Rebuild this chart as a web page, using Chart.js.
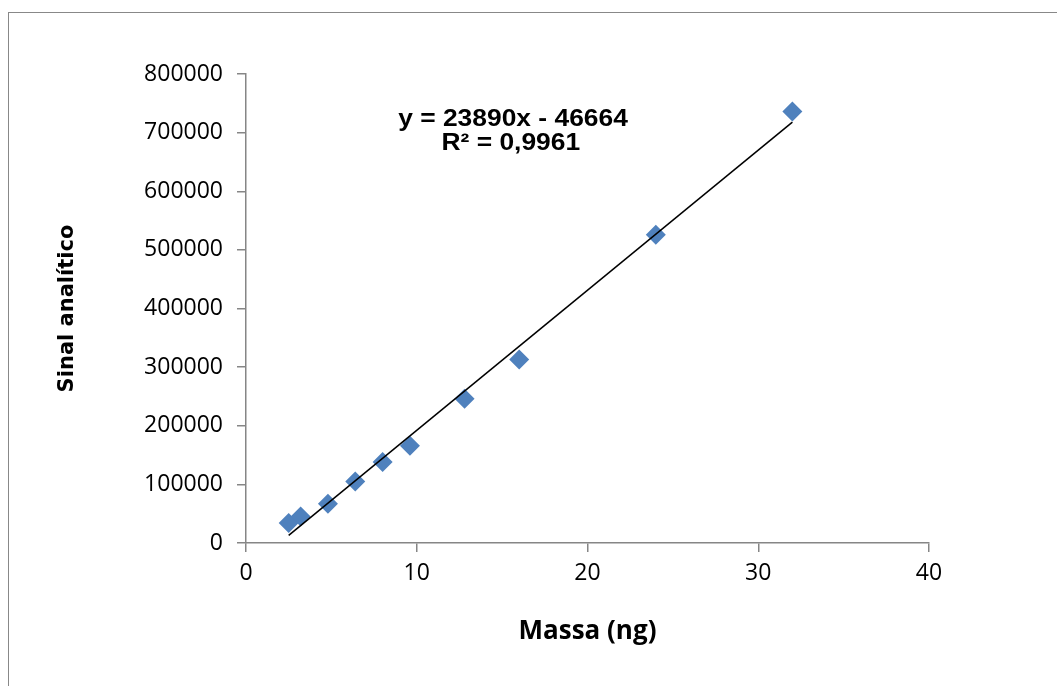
<!DOCTYPE html>
<html>
<head>
<meta charset="utf-8">
<script src="https://cdn.jsdelivr.net/npm/chart.js@4"></script>
<style>
  html, body { margin: 0; padding: 0; background: #fff; }
  #wrap { position: relative; width: 1057px; height: 686px; }
  #frame { position: absolute; left: 8px; top: 12px; right: -2px; bottom: -2px; border-top: 1.5px solid #888; border-left: 1.5px solid #888; }
  canvas { position: absolute; left: 0; top: 0; }
</style>
</head>
<body>
<div id="wrap">
  <div id="frame"></div>
  <canvas id="chart" width="1057" height="686"></canvas>
</div>
<script>
// calibration data
const massa = [2.5, 3.2, 4.8, 6.4, 8.0, 9.6, 12.8, 16.0, 24.0, 32.0];
const sinal = [34000, 45000, 67000, 105000, 138000, 166000, 246000, 313000, 526000, 736000];

// trendline as printed on the chart
const slope = 23890;
const intercept = -46664;
const eqLines = ['y = 23890x - 46664', 'R\u00b2 = 0,9961'];

const xMin = Math.min(...massa);
const xMax = Math.max(...massa);
const trend = [
    { x: xMin, y: slope * xMin + intercept },
    { x: xMax, y: slope * xMax + intercept }
];

const axisGray = '#868686';

const equationLabel = {
    id: 'equationLabel',
    afterDatasetsDraw(chart) {
        const { ctx, chartArea } = chart;
        ctx.save();
        ctx.fillStyle = '#000';
        ctx.font = 'bold 24px "Liberation Sans", Arial, sans-serif';
        ctx.textAlign = 'center';
        ctx.textBaseline = 'middle';
        const cx = chartArea.left + 267;
        const cy = chartArea.top + 45;
        ctx.translate(cx, cy);
        ctx.scale(1.1, 1);
        ctx.fillText(eqLines[0], 0, 0);
        ctx.fillText(eqLines[1], -2, 24);
        ctx.restore();
    }
};

new Chart(document.getElementById('chart'), {
    type: 'scatter',
    data: {
        datasets: [
            {
                label: 'Sinal',
                data: massa.map((m, i) => ({ x: m, y: sinal[i] })),
                pointStyle: 'rectRot',
                pointRadius: 10,
                pointHoverRadius: 10,
                backgroundColor: '#4F81BD',
                borderWidth: 0,
                order: 2
            },
            {
                label: 'Linear',
                type: 'line',
                data: trend,
                borderColor: '#000',
                borderWidth: 1.5,
                pointRadius: 0,
                fill: false,
                order: 1
            }
        ]
    },
    options: {
        responsive: false,
        animation: false,
        layout: { padding: { left: 55, right: 128, top: 74, bottom: 39 } },
        plugins: {
            legend: { display: false },
            tooltip: { enabled: false }
        },
        scales: {
            x: {
                type: 'linear',
                min: 0,
                max: 40,
                ticks: {
                    stepSize: 10,
                    color: '#000',
                    padding: 8,
                    font: { family: '"Open Sans", sans-serif', size: 23 }
                },
                grid: { drawOnChartArea: false, drawTicks: true, tickLength: 9, color: axisGray, lineWidth: 1.5 },
                border: { color: axisGray, width: 1.5 },
                title: {
                    display: true,
                    text: 'Massa (ng)',
                    color: '#000',
                    padding: 0,
                    font: { family: '"Open Sans", sans-serif', size: 26, weight: 'bold' }
                },
                afterFit(scale) { scale.height = 686 - 543 - 39; }
            },
            y: {
                type: 'linear',
                min: 0,
                max: 800000,
                ticks: {
                    stepSize: 100000,
                    color: '#000',
                    padding: 14,
                    callback: (v) => String(v),
                    font: { family: '"Open Sans", sans-serif', size: 23 }
                },
                grid: { drawOnChartArea: false, drawTicks: true, tickLength: 9, color: axisGray, lineWidth: 1.5 },
                border: { color: axisGray, width: 1.5 },
                title: {
                    display: true,
                    text: 'Sinal analítico',
                    color: '#000',
                    padding: 0,
                    font: { family: '"DejaVu Sans", sans-serif', size: 21, weight: 'bold' }
                },
                afterFit(scale) { scale.width = 246 - 55; }
            }
        }
    },
    plugins: [equationLabel]
});
</script>
</body>
</html>
